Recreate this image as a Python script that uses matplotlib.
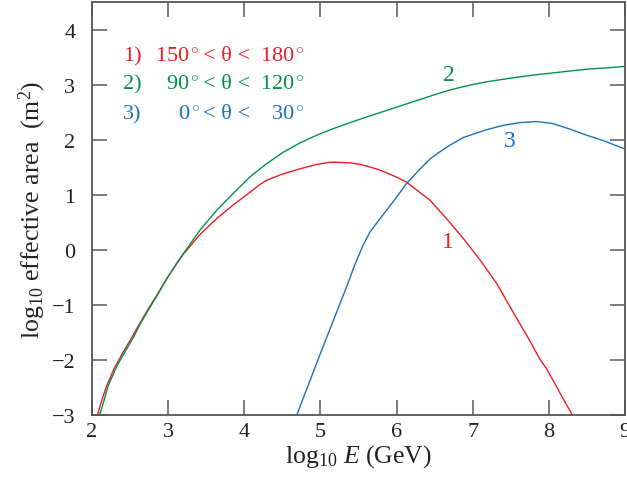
import matplotlib
matplotlib.use("Agg")
import matplotlib.pyplot as plt

plt.rcParams['font.family'] = ['Liberation Serif', 'DejaVu Serif']
plt.rcParams['mathtext.fontset'] = 'custom'
plt.rcParams['mathtext.rm'] = 'Liberation Serif'
plt.rcParams['mathtext.it'] = 'Liberation Serif:italic'

# curve 1: 150 < theta < 180 (red)
x1 = [2.07, 2.13, 2.19, 2.30, 2.41, 2.52, 2.63, 2.74, 2.85, 2.98, 3.11, 3.20, 3.42, 3.64,
      3.86, 4.08, 4.21, 4.29, 4.51, 4.73, 4.95, 5.13, 5.21, 5.39, 5.56, 5.78, 6.0, 6.13,
      6.44, 6.66, 6.88, 7.10, 7.32, 7.53, 7.75, 7.88, 7.97, 8.10, 8.19, 8.31]
y1 = [-3.0, -2.73, -2.48, -2.13, -1.86, -1.60, -1.33, -1.07, -0.83, -0.53, -0.26, -0.08, 0.28, 0.57,
      0.82, 1.05, 1.19, 1.26, 1.38, 1.47, 1.55, 1.59, 1.59, 1.58, 1.54, 1.45, 1.32, 1.23,
      0.90, 0.56, 0.20, -0.19, -0.62, -1.13, -1.65, -1.98, -2.16, -2.48, -2.71, -3.0]

# curve 2: 90 < theta < 120 (green)
x2 = [2.10, 2.16, 2.21, 2.32, 2.43, 2.54, 2.64, 2.75, 2.86, 2.98, 3.11, 3.20, 3.42, 3.64,
      3.86, 4.08, 4.29, 4.51, 4.73, 4.95, 5.13, 5.39, 5.56, 6.0, 6.31, 6.53, 6.75, 6.96,
      7.18, 7.51, 7.84, 8.17, 8.50, 8.72, 9.0]
y2 = [-3.0, -2.73, -2.48, -2.13, -1.86, -1.60, -1.33, -1.07, -0.82, -0.53, -0.25, -0.07, 0.36, 0.72,
      1.03, 1.33, 1.56, 1.77, 1.94, 2.08, 2.18, 2.31, 2.39, 2.59, 2.73, 2.83, 2.92, 2.99,
      3.05, 3.12, 3.18, 3.23, 3.28, 3.30, 3.33]

# curve 3: 0 < theta < 30 (blue)
x3 = [4.69, 4.82, 5.04, 5.24, 5.35, 5.45, 5.56, 5.65, 5.78, 5.96, 6.13, 6.29, 6.44, 6.57,
      6.70, 6.88, 7.05, 7.18, 7.40, 7.62, 7.84, 8.06, 8.28, 8.50, 8.72, 9.0]
y3 = [-3.0, -2.53, -1.74, -1.04, -0.65, -0.28, 0.08, 0.32, 0.56, 0.88, 1.20, 1.44, 1.65, 1.78,
      1.90, 2.04, 2.12, 2.18, 2.26, 2.31, 2.33, 2.29, 2.19, 2.08, 1.98, 1.83]

red = '#ec1c24'
green = '#00924a'
blue = '#1a70bc'

legend_idx = ['1)', '2)', '3)']
legend_lo = ['150', '90', '0']
legend_hi = ['180', '120', '30']
legend_y = [3.53, 3.02, 2.47]

fig = plt.figure(figsize=(6.27, 4.85), dpi=100)
ax = fig.add_axes([0.1467, 0.1423, 0.85, 0.8515])

ax.plot(x1, y1, color=red, lw=1.0)
ax.plot(x2, y2, color=green, lw=1.0)
ax.plot(x3, y3, color=blue, lw=1.0)

ax.set_xlim(2, 9)
ax.set_ylim(-3, 4.5)
ax.set_xticks(range(2, 10))
ax.set_yticks(range(-3, 5))
ax.set_yticklabels(['\u22123', '\u22122', '\u22121', '0', '1', '2', '3', '4'])

for s in ax.spines.values():
    s.set_color('#555555')
    s.set_linewidth(1.3)
ax.tick_params(direction='in', length=11, width=1.2, color='#666666',
               top=True, right=True, labelsize=16, labelcolor='#222222')
ax.tick_params(axis='x', pad=5)
ax.tick_params(axis='y', pad=12)

ax.set_xlabel('log$_{10}$ $E$ (GeV)', fontsize=18.5, color='#222222', labelpad=1)
ax.set_ylabel('log$_{10}$ effective area  (m$^2$)', fontsize=18.5, color='#222222', labelpad=3)

# curve labels
ax.text(6.68, 0.15, '1', color=red, fontsize=17, ha='center', va='center')
ax.text(6.69, 3.18, '2', color=green, fontsize=17, ha='center', va='center')
ax.text(7.49, 1.98, '3', color=blue, fontsize=17, ha='center', va='center')

# legend block
for idx, lo, hi, yy, c in zip(legend_idx, legend_lo, legend_hi, legend_y, [red, green, blue]):
    ax.text(2.407, yy, idx, color=c, fontsize=16, ha='left', va='center')
    ax.text(3.418, yy, lo + '$^\\circ$', color=c, fontsize=16, ha='right', va='center')
    ax.text(3.773, yy, '< \u03b8 <', color=c, fontsize=16, ha='center', va='center')
    ax.text(4.797, yy, hi + '$^\\circ$', color=c, fontsize=16, ha='right', va='center')

fig.text(0.14, -0.025, '(a)', fontsize=16, color='#222222', va='center')

fig.savefig('out.png', dpi=100)
